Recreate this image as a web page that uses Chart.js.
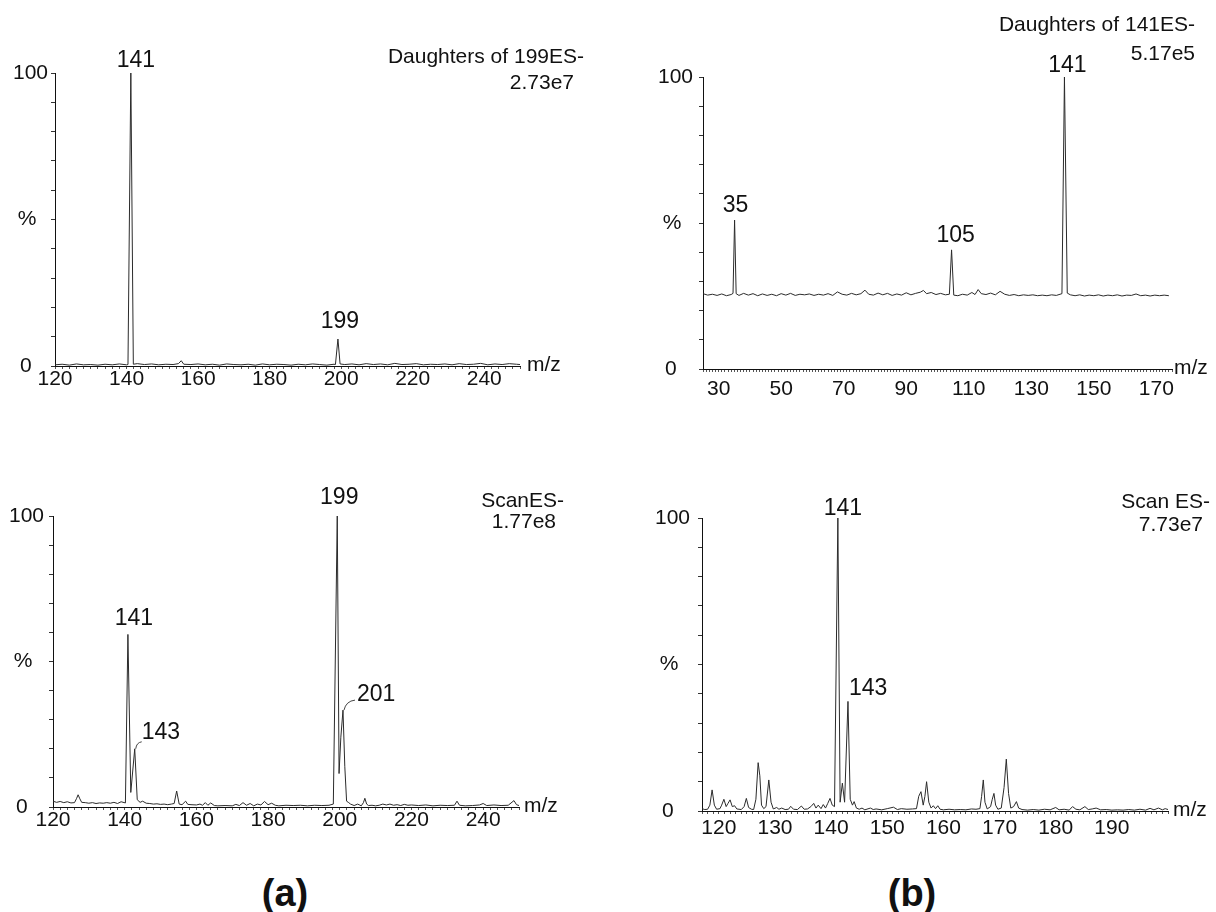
<!DOCTYPE html>
<html>
<head>
<meta charset="utf-8">
<script src="https://cdn.jsdelivr.net/npm/chart.js@4.4.1/dist/chart.umd.min.js"></script>
<style>
  body { margin: 0; background: #fff; width: 1216px; height: 912px; position: relative; overflow: hidden;
         font-family: "Liberation Sans", Arial, sans-serif; }
  canvas { position: absolute; }
  .tag { position: absolute; font-weight: bold; font-size: 38px; color: #111; transform: translate(-50%, -50%); }
</style>
</head>
<body>
<canvas id="specA" width="608" height="430" style="left:0px;top:0px"></canvas>
<canvas id="specB" width="608" height="430" style="left:608px;top:0px"></canvas>
<canvas id="specC" width="608" height="430" style="left:0px;top:440px"></canvas>
<canvas id="specD" width="608" height="430" style="left:608px;top:440px"></canvas>
<div class="tag" style="left:285px;top:893px">(a)</div>
<div class="tag" style="left:912px;top:893px">(b)</div>
<script>
// (a) top: daughters of 199, ES-
const aMz = [120,122,124,126,128,130,132,134,136,138,140,
  140.4,141.2,141.9,
  143,145,147,149,151,153,
  154.5,155.3,156,
  158,160,162,164,166,168,170,172,174,176,178,180,182,184,186,188,190,192,194,196,198,
  198.4,199.1,199.7,
  201,203,205,207,209,211,213,215,217,219,221,223,225,227,229,231,233,235,237,239,241,243,245,247,249,
  250];
const aInt = [0.4,0.6,0.3,0.7,0.4,0.5,0.3,0.6,0.4,0.7,0.4,
  0.5,100,0.6,
  0.8,0.5,0.7,0.4,0.6,0.5,
  0.8,1.8,0.6,
  0.5,0.7,0.4,0.6,0.3,0.7,0.5,0.4,0.6,0.3,0.7,0.4,0.6,0.5,0.3,0.6,0.4,0.7,0.5,0.3,0.6,
  0.5,9.2,0.7,
  0.5,0.7,0.4,0.8,0.5,0.7,0.4,0.9,0.5,0.6,0.8,0.4,0.6,0.5,0.7,0.4,0.8,0.5,0.6,0.9,0.4,0.7,0.5,0.8,0.6,
  0.5];
const aLabelMz = [141, 199];
const aXTicks = [120, 140, 160, 180, 200, 220, 240];
const aTitle = ['Daughters of 199ES-', '2.73e7'];

// (b) top: daughters of 141, ES-
const bMz = [25,26.5,28,29.5,31,32.5,34,
  34.6,35.1,35.6,
  36.5,38,39.5,41,42.5,44,45.5,47,48.5,50,51.5,53,54.5,56,57.5,59,60.5,62,63.5,65,66.5,
  68,69.5,71,72.5,74,75.5,76.8,78,79.5,81,82.5,84,85.5,87,88.5,90,91.5,93,94.5,95.5,96.5,98,99.5,101,102.5,
  103.8,104.5,105.2,
  106.5,108,109.5,111,112,113,114,115.5,117,118.5,120,121.5,123,124.5,126,127.5,129,130.5,132,133.5,135,136.5,138,
  139.8,140.6,141.5,
  142.5,144,145.5,147,148.5,150,151.5,153,154.5,156,157.5,159,160.5,162,163.5,165,166.5,168,169.5,171,172.5,174];
const bInt = [25.8,25.3,25.6,25.2,25.7,25.1,25.5,
  25.9,51,25.8,
  25.2,25.9,25.3,25.8,25.1,25.7,25.2,25.6,25.1,25.8,25.3,25.9,25.2,25.6,25.4,25.7,25.2,25.6,25.3,25.8,25.2,
  26.4,25.6,25.3,25.9,25.4,25.8,27,25.6,25.3,26,25.4,25.9,25.2,25.7,25.3,26.1,25.4,25.9,26.3,26.9,25.8,26.2,25.5,25.9,25.4,
  25.6,40.8,25.3,
  25.1,25.6,25.3,26.2,25.5,27.2,25.8,25.5,26,25.4,26.6,25.6,25.2,25.5,25.1,25.4,25.2,25.4,25.1,25.3,25.1,25.4,25.2,
  25.8,100,26,
  25.4,25.1,25.4,25.0,25.3,25.1,25.4,25.0,25.3,25.1,25.4,25.0,25.3,25.2,25.7,25.1,25.3,25.0,25.3,25.1,25.3,25.1];
const bLabelMz = [35, 105, 141];
const bXTicks = [30, 50, 70, 90, 110, 130, 150, 170];
const bTitle = ['Daughters of 141ES-', '5.17e5'];

// (a) bottom: full scan, ES-
const cMz = [120,121,122,123,124,125,126,126.6,127,127.5,128,129,130,131,132,133,134,135,136,137,138,139,140.2,
  140.9,141.7,142.8,143.5,
  144.3,145,146,147,148,149,150,151,152,153,153.8,
  154.5,155.2,156,157,157.6,158.5,160,161,161.7,162.5,163.2,164,165,166,168,170,171,172,173,174,
  175,176,177,178,179,180,181,182,183,185,187,189,191,193,195,197,198.2,
  199.3,199.8,200.3,200.9,201.4,201.9,
  202.5,203,204,205,206,206.6,207,207.5,208,209,210,211,212,213,214,215,216,217,218,219,
  220,222,224,226,228,230,232,232.7,233.4,235,237,239,240,241,243,245,247,248.6,249.3,250];
const cInt = [2.0,1.6,1.9,1.5,1.8,1.4,1.5,3.0,4.2,2.8,1.6,1.5,1.3,1.5,1.2,1.4,1.3,1.5,1.3,1.6,1.2,1.8,1.4,
  59.3,5,20,2.5,
  1.6,2.0,1.3,1.2,1.0,1.1,0.9,1.0,0.8,1.0,1.2,
  5.5,1.0,0.8,2.0,0.9,0.8,0.7,1.0,0.6,1.5,0.6,1.4,0.5,0.4,0.5,0.4,0.9,0.5,1.5,0.6,
  1.2,0.4,1.0,0.7,1.9,0.8,1.3,0.6,0.4,0.6,0.5,0.6,0.4,0.6,0.5,0.6,1.0,
  100,11.5,24,33.3,14,2.0,
  1.5,1.0,0.5,1.0,0.4,1.5,3.0,1.0,0.5,0.6,0.4,0.6,1.0,0.7,1.0,0.6,0.8,0.5,0.9,0.6,
  0.7,0.5,0.7,0.4,0.6,0.5,0.6,2.0,0.6,0.4,0.5,0.7,1.2,0.5,0.7,0.5,0.6,2.2,0.8,0.5];
const cLabelMz = [141, 143, 199, 201];
const cXTicks = [120, 140, 160, 180, 200, 220, 240];
const cTitle = ['ScanES-', '1.77e8'];

// (b) bottom: full scan, ES-
const dMz = [117,117.5,118,118.4,118.8,119.2,119.6,120.2,120.5,120.9,121.3,121.6,122,122.4,122.8,123.2,124,124.5,124.9,125.3,125.8,126.2,
  126.6,127,127.3,127.6,128,128.4,128.9,129.3,129.7,130.3,130.7,131.2,131.8,132.4,132.8,133.3,134,134.7,135.2,135.8,
  136.4,136.9,137.3,137.7,138.2,138.6,139,139.4,139.8,140.2,140.6,
  141.2,141.6,142,142.4,143,143.4,143.8,144.1,144.5,
  145,145.5,146,147,147.5,148,149,150,151.1,151.8,152.5,153.5,154.5,155.2,155.6,156,156.4,156.7,157,157.4,
  157.8,158.2,158.6,159,159.4,160,161,162,163,164,165,165.8,166.5,
  166.8,167.1,167.4,167.8,168.4,168.7,169,169.3,169.7,170.3,170.8,171.2,171.6,172,172.5,173,173.4,174,
  175,176,177,178,179,180,180.6,181.5,182.4,183,183.6,184.3,185.2,185.8,186.5,187.2,188,189,190,191,
  192,193,194,195,196,196.8,197.5,198.3,199,199.5,200];
const dInt = [0.8,0.5,0.6,2,7.2,2,0.6,0.8,2,4,1.5,2.5,3.8,1.5,1.8,0.7,0.5,1.5,4.3,1.2,0.6,0.5,
  4,16.5,12,2,0.8,1.5,10.6,3,0.7,1.2,0.6,1.0,0.5,0.6,1.6,0.6,0.5,1.7,0.6,0.7,
  1.5,2.6,1.0,2.0,0.8,2.2,1.0,2.6,4.3,2,1.5,
  100,3,9.5,3,37.4,4,2,3.2,1.0,
  0.6,1.0,0.4,1.0,0.5,0.7,0.4,0.8,1.3,0.5,0.8,0.6,0.7,0.8,5,6.6,2,5,10,3,
  1,1.8,0.8,1.8,0.6,0.4,0.6,0.4,0.5,0.4,0.7,0.6,0.8,
  5,10.6,3,0.7,1.5,4,6,2,0.6,1.0,8,17.7,6,1.0,1.5,3.2,1,0.5,
  0.3,0.5,0.3,0.6,0.4,1.2,0.4,0.6,0.3,1.5,0.6,0.4,1.5,0.5,0.7,1.0,0.4,0.5,0.3,0.4,
  0.3,0.5,0.3,0.6,0.3,0.9,0.4,1.0,0.4,0.8,0.5];
const dLabelMz = [141, 143];
const dXTicks = [120, 130, 140, 150, 160, 170, 180, 190];
const dTitle = ['Scan ES-', '7.73e7'];

const yTickValues = [0, 50, 100];
const yTickLabels = ['0', '%', '100'];

const FONT = '"Liberation Sans", Arial, sans-serif';
Chart.defaults.font.family = FONT;
Chart.defaults.color = '#111';

// index of the highest point near a labelled mass
function apexIndex(mz, ints, m) {
  let best = -1;
  for (let i = 0; i < mz.length; i++) {
    if (Math.abs(mz[i] - m) <= 0.7 && (best < 0 || ints[i] > ints[best])) best = i;
  }
  return best;
}

function annotator(mz, ints, opt) {
  return {
    id: 'annot_' + opt.id,
    afterDatasetsDraw(chart) {
      const ctx = chart.ctx, xs = chart.scales.x, ys = chart.scales.y, area = chart.chartArea;
      ctx.save();
      ctx.fillStyle = '#111';
      ctx.strokeStyle = '#444';
      ctx.lineWidth = 1;
      ctx.textBaseline = 'alphabetic';
      ctx.font = '23px ' + FONT;
      opt.labelMz.forEach((m, k) => {
        const st = opt.labelStyle[k];
        const i = apexIndex(mz, ints, m);
        const px = xs.getPixelForValue(mz[i]);
        const py = ys.getPixelForValue(ints[i]);
        ctx.textAlign = st.align || 'center';
        ctx.fillText(String(m), px + st.dx, py - st.gap);
        if (st.leader) {
          ctx.beginPath();
          ctx.moveTo(px + 1, py);
          ctx.quadraticCurveTo(px + st.leader[0] * 0.25, py - st.leader[1] * 0.9, px + st.leader[0], py - st.leader[1]);
          ctx.stroke();
        }
      });
      ctx.font = '21px ' + FONT;
      ctx.textAlign = 'right';
      opt.title.forEach((t, k) => ctx.fillText(t, opt.titlePos[k][0], opt.titlePos[k][1]));
      ctx.textAlign = 'left';
      ctx.textBaseline = 'middle';
      ctx.fillText('m/z', area.right + opt.mzDx, area.bottom - 1);
      ctx.restore();
    }
  };
}

function spectrum(id, mz, ints, opt) {
  const canvas = document.getElementById(id);
  const W = canvas.width, H = canvas.height;
  const yw = 50, xh = 30;
  const [left, right, top, bottom] = opt.area;
  opt.id = id;
  return new Chart(canvas, {
    type: 'line',
    data: {
      datasets: [{
        data: mz.map((m, i) => ({ x: m, y: ints[i] })),
        borderColor: '#2b2b2b',
        borderWidth: 1,
        pointRadius: 0,
        tension: 0,
        fill: false
      }]
    },
    options: {
      responsive: false,
      animation: false,
      events: [],
      layout: { padding: { left: left - yw, right: W - right, top: top, bottom: H - bottom - xh } },
      plugins: { legend: { display: false }, tooltip: { enabled: false } },
      scales: {
        x: {
          type: 'linear', min: opt.xMin, max: opt.xMax,
          border: { display: true, color: '#111', width: 1 },
          grid: { drawOnChartArea: false, drawTicks: true, tickLength: 3, color: '#555' },
          ticks: {
            stepSize: opt.xStep, autoSkip: false, maxRotation: 0, minRotation: 0,
            padding: opt.xPad, color: '#111', font: { size: 21 },
            callback: v => opt.xTicks.includes(Math.round(v * 1000) / 1000) ? String(v) : ''
          },
          afterFit: s => { s.height = xh; }
        },
        y: {
          min: 0, max: 100,
          border: { display: true, color: '#111', width: 1 },
          grid: { drawOnChartArea: false, drawTicks: true, tickLength: 4, color: '#333' },
          ticks: {
            stepSize: 10, autoSkip: false, padding: opt.yPad, color: '#111', font: { size: 21 },
            callback: v => {
              const k = yTickValues.indexOf(v);
              if (k < 0) return '';
              const pad = v === 0 ? '\u2002 ' : (v === 50 ? '  ' : '');
              return yTickLabels[k] + pad;
            }
          },
          afterFit: s => { s.width = yw; }
        }
      }
    },
    plugins: [annotator(mz, ints, opt)]
  });
}

spectrum('specA', aMz, aInt, {
  xMin: 120, xMax: 250, xStep: 2, xTicks: aXTicks, area: [55, 520, 73, 366], xPad: -2, yPad: 3,
  labelMz: aLabelMz, labelStyle: [{ dx: 5, gap: 6 }, { dx: 2, gap: 11 }],
  title: aTitle, titlePos: [[584, 63], [574, 89]], mzDx: 7
});

spectrum('specB', bMz, bInt, {
  xMin: 25, xMax: 175, xStep: 1, xTicks: bXTicks, area: [95, 564, 77, 369], xPad: 5, yPad: 6,
  labelMz: bLabelMz, labelStyle: [{ dx: 1, gap: 8 }, { dx: 4, gap: 8 }, { dx: 3, gap: 5 }],
  title: bTitle, titlePos: [[587, 31], [587, 60]], mzDx: 2
});

spectrum('specC', cMz, cInt, {
  xMin: 120, xMax: 250, xStep: 2, xTicks: cXTicks, area: [53, 519, 76, 367], xPad: -2, yPad: 5,
  labelMz: cLabelMz,
  labelStyle: [{ dx: 6, gap: 9 }, { align: 'left', dx: 7, gap: 10, leader: [7, 7] },
               { dx: 2, gap: 12 }, { align: 'left', dx: 14, gap: 9, leader: [12, 10] }],
  title: cTitle, titlePos: [[564, 67], [556, 88]], mzDx: 5
});

spectrum('specD', dMz, dInt, {
  xMin: 117, xMax: 200, xStep: 1, xTicks: dXTicks, area: [94, 560, 78, 371], xPad: 2, yPad: 8,
  labelMz: dLabelMz, labelStyle: [{ dx: 5, gap: 3 }, { align: 'left', dx: 1, gap: 6 }],
  title: dTitle, titlePos: [[602, 68], [595, 91]], mzDx: 5
});
</script>
</body>
</html>
